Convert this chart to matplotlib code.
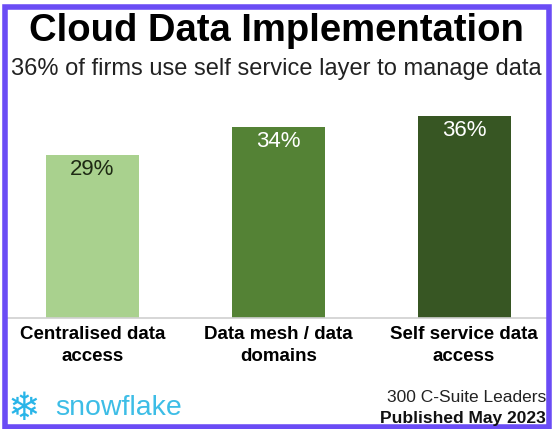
import matplotlib
matplotlib.use('Agg')
import matplotlib.pyplot as plt
from matplotlib.patches import Rectangle

plt.rcParams['font.family'] = ['Liberation Sans', 'DejaVu Sans']

categories = ['Centralised data\naccess', 'Data mesh / data\ndomains', 'Self service data\naccess']
values = [29, 34, 36]
colors = ['#a9d18e', '#548235', '#375623']
label_colors = ['#1e2a14', '#ffffff', '#ffffff']

W, H = 553, 429
fig = plt.figure(figsize=(W / 100, H / 100), dpi=100)
fig.patch.set_facecolor('white')

ax = fig.add_axes([4 / W, 1 - 318 / H, 545 / W, 225 / H])
x = range(len(categories))
bars = ax.bar(x, values, width=0.5, color=colors)
ax.set_xlim(-0.476, 2.457)
ax.set_ylim(0, 40)
for b, v, c in zip(bars, values, label_colors):
    ax.text(b.get_x() + b.get_width() / 2, v - 0.8, f'{v}%', ha='center', va='top',
            fontsize=16, color=c)

for s in ['top', 'left', 'right']:
    ax.spines[s].set_visible(False)
ax.spines['bottom'].set_color('#d0d0d0')
ax.spines['bottom'].set_linewidth(1.2)
ax.set_yticks([])
ax.set_xticks(list(x))
ax.set_xticklabels(categories, fontsize=13.5, fontweight='bold', linespacing=1.35)
ax.tick_params(axis='x', length=0, pad=6)

fig.text(0.5, 1 - 31 / H, 'Cloud Data Implementation', ha='center', va='center',
         fontsize=27.5, fontweight='bold', color='black')
fig.text(0.5, 1 - 69 / H, '36% of firms use self service layer to manage data', ha='center',
         va='center', fontsize=17, color='#222222')

fig.text(546 / W, 1 - 398 / H, '300 C-Suite Leaders', ha='right', va='center', fontsize=12.5,
         color='#222222')
fig.text(546 / W, 1 - 418 / H, 'Published May 2023', ha='right', va='center', fontsize=12.5,
         fontweight='bold', color='#111111')

fig.text(8 / W, 1 - 409 / H, '❄', ha='left', va='center', fontsize=28, color='#29b5e8',
         family=['DejaVu Sans'])
fig.text(55 / W, 1 - 408 / H, 'snowflake', ha='left', va='center', fontsize=20.5,
         color='#3dbde6')

# purple frame
fig.patches.append(Rectangle((5 / W, 2 / H), 544 / W, 420 / H, transform=fig.transFigure,
                             fill=False, edgecolor='#6a4cf5', linewidth=4))

fig.savefig('out.png', dpi=100)
